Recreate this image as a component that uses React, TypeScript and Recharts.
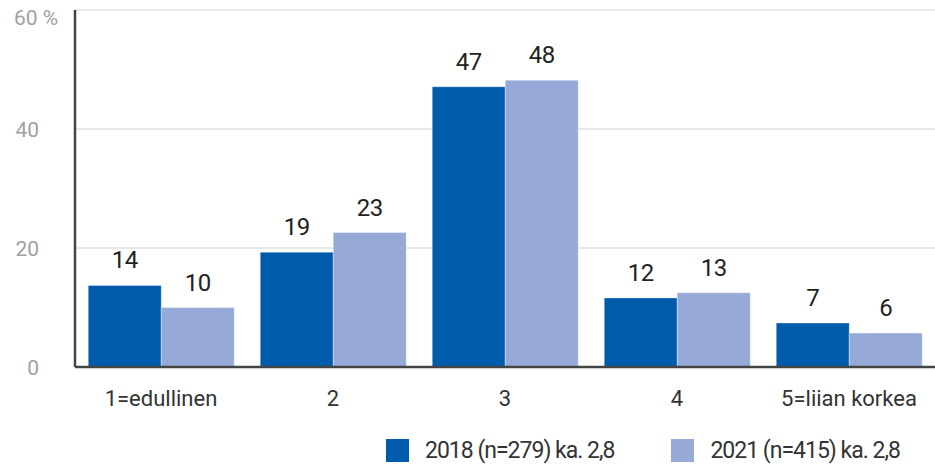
import { BarChart, Bar, XAxis, YAxis, CartesianGrid, LabelList } from 'recharts'

const CATEGORIES = ['1=edullinen', '2', '3', '4', '5=liian korkea']
const VALUES_2018 = [13.7, 19.3, 47.1, 11.6, 7.4]
const VALUES_2021 = [10.0, 22.6, 48.2, 12.5, 5.7]
const Y_TICKS = [0, 20, 40, 60]
const LEGEND_2018 = '2018 (n=279) ka. 2,8'
const LEGEND_2021 = '2021 (n=415) ka. 2,8'

const DARK = '#005baa'
const LIGHT = '#97aad7'
const FONT = 'Roboto, "DejaVu Sans", sans-serif'

const data = CATEGORIES.map((name, i) => ({
    name,
    y2018: VALUES_2018[i],
    y2021: VALUES_2021[i],
}))

const XTick = ({ x, y, payload }: any) => (
    <text x={x} y={y + 37} textAnchor="middle" fill="#333" fontSize={22} fontFamily={FONT}>
        {payload.value}
    </text>
)

const YTick = ({ y, payload }: any) => {
    if (payload.value === 60) {
        return (
            <text x={14} y={y + 15} textAnchor="start" fill="#a0a0a0" fontSize={21} fontFamily={FONT}>
                60 %
            </text>
        )
    }
    return (
        <text x={39} y={y + 8} textAnchor="end" fill="#a0a0a0" fontSize={21} fontFamily={FONT}>
            {payload.value}
        </text>
    )
}

const labelStyle = { fill: '#222', fontSize: 24, fontFamily: FONT, letterSpacing: -0.5 }

export default function App() {
    return (
        <div style={{ position: 'absolute', left: 0, top: 0, width: 935, height: 466, background: '#fff', fontFamily: FONT }}>
            <BarChart
                width={935}
                height={466}
                data={data}
                margin={{ top: 10, right: 0, left: 0, bottom: 59 }}
                barCategoryGap="7.7%"
                barGap={0}
            >
                <CartesianGrid vertical={false} stroke="#d0d0d0" strokeWidth={1} />
                <XAxis
                    dataKey="name"
                    height={40}
                    tickSize={0}
                    tickLine={false}
                    axisLine={{ stroke: '#444', strokeWidth: 2.5 }}
                    tick={<XTick />}
                    interval={0}
                />
                <YAxis
                    width={75}
                    domain={[0, 60]}
                    ticks={Y_TICKS}
                    tickSize={0}
                    tickLine={false}
                    axisLine={{ stroke: '#444', strokeWidth: 2.5 }}
                    tick={<YTick />}
                />
                <Bar dataKey="y2018" fill={DARK} stroke="rgba(255,255,255,0.35)" strokeWidth={1} isAnimationActive={false}>
                    <LabelList dataKey="y2018" position="top" offset={17} formatter={(v: any) => Math.round(v)} style={labelStyle} />
                </Bar>
                <Bar dataKey="y2021" fill={LIGHT} stroke="rgba(255,255,255,0.35)" strokeWidth={1} isAnimationActive={false}>
                    <LabelList dataKey="y2021" position="top" offset={17} formatter={(v: any) => Math.round(v)} style={labelStyle} />
                </Bar>
            </BarChart>

            {/* Legend */}
            <div style={{ position: 'absolute', left: 386, top: 439, display: 'flex', alignItems: 'center', color: '#333', fontSize: 23, letterSpacing: -1, lineHeight: '23px', whiteSpace: 'nowrap' }}>
                <div style={{ width: 23, height: 23, background: DARK }} />
                <span style={{ marginLeft: 16 }}>{LEGEND_2018}</span>
                <div style={{ width: 23, height: 23, background: LIGHT, marginLeft: 57 }} />
                <span style={{ marginLeft: 16 }}>{LEGEND_2021}</span>
            </div>
        </div>
    )
}
